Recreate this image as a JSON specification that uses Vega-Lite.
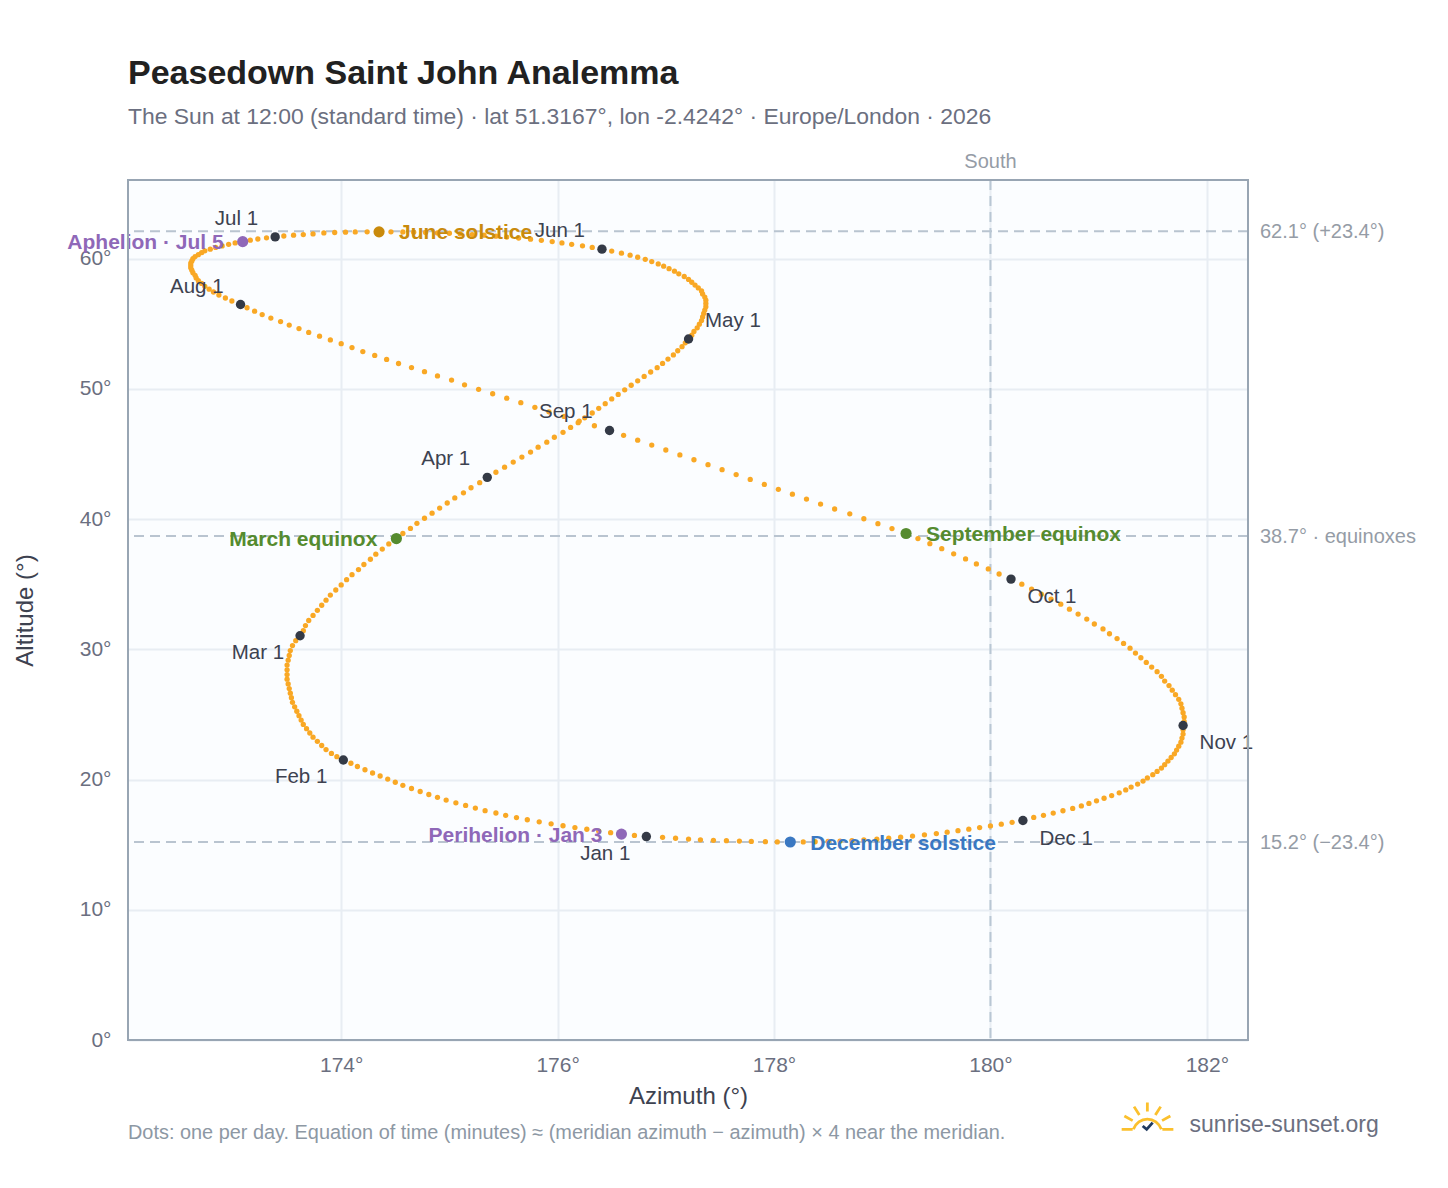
{
"$schema":"https://vega.github.io/schema/vega-lite/v6.json",
"width":1120,"height":860,
"autosize":"none",
"padding":{"left":128,"top":180,"right":200,"bottom":148},
"background":"#ffffff",
"config":{"font":"Liberation Sans","view":{"fill":"#fbfdff","stroke":null}},
"title":{"text":"Peasedown Saint John Analemma","subtitle":"The Sun at 12:00 (standard time) · lat 51.3167°, lon -2.4242° · Europe/London · 2026","anchor":"start","frame":"group","fontSize":34,"fontWeight":"bold","color":"#212121","subtitleFontSize":22.9,"subtitleColor":"#6b6f80","subtitlePadding":15,"offset":23},
"datasets":{
"blank":[{}],
"days":[
{"d":"Jan 1","az":176.82,"alt":15.62},{"d":"Jan 2","az":176.71,"alt":15.71},{"d":"Jan 3","az":176.59,"alt":15.81},{"d":"Jan 4","az":176.49,"alt":15.92},{"d":"Jan 5","az":176.38,"alt":16.04},{"d":"Jan 6","az":176.27,"alt":16.18},{"d":"Jan 7","az":176.16,"alt":16.31},{"d":"Jan 8","az":176.05,"alt":16.45},{"d":"Jan 9","az":175.94,"alt":16.60},{"d":"Jan 10","az":175.83,"alt":16.75},{"d":"Jan 11","az":175.72,"alt":16.91},{"d":"Jan 12","az":175.62,"alt":17.08},{"d":"Jan 13","az":175.52,"alt":17.25},{"d":"Jan 14","az":175.43,"alt":17.43},{"d":"Jan 15","az":175.33,"alt":17.61},{"d":"Jan 16","az":175.24,"alt":17.81},{"d":"Jan 17","az":175.15,"alt":18.01},{"d":"Jan 18","az":175.06,"alt":18.21},{"d":"Jan 19","az":174.97,"alt":18.42},{"d":"Jan 20","az":174.89,"alt":18.63},{"d":"Jan 21","az":174.81,"alt":18.85},{"d":"Jan 22","az":174.73,"alt":19.08},{"d":"Jan 23","az":174.65,"alt":19.31},{"d":"Jan 24","az":174.57,"alt":19.55},{"d":"Jan 25","az":174.50,"alt":19.79},{"d":"Jan 26","az":174.43,"alt":20.03},{"d":"Jan 27","az":174.36,"alt":20.27},{"d":"Jan 28","az":174.29,"alt":20.50},{"d":"Jan 29","az":174.22,"alt":20.75},{"d":"Jan 30","az":174.15,"alt":21.00},{"d":"Jan 31","az":174.09,"alt":21.25},
{"d":"Feb 1","az":174.02,"alt":21.50},{"d":"Feb 2","az":173.96,"alt":21.75},{"d":"Feb 3","az":173.91,"alt":22.00},{"d":"Feb 4","az":173.86,"alt":22.30},{"d":"Feb 5","az":173.82,"alt":22.61},{"d":"Feb 6","az":173.78,"alt":22.93},{"d":"Feb 7","az":173.74,"alt":23.25},{"d":"Feb 8","az":173.71,"alt":23.57},{"d":"Feb 9","az":173.68,"alt":23.90},{"d":"Feb 10","az":173.65,"alt":24.23},{"d":"Feb 11","az":173.63,"alt":24.56},{"d":"Feb 12","az":173.61,"alt":24.90},{"d":"Feb 13","az":173.59,"alt":25.24},{"d":"Feb 14","az":173.57,"alt":25.58},{"d":"Feb 15","az":173.55,"alt":25.93},{"d":"Feb 16","az":173.54,"alt":26.28},{"d":"Feb 17","az":173.53,"alt":26.63},{"d":"Feb 18","az":173.52,"alt":26.98},{"d":"Feb 19","az":173.51,"alt":27.34},{"d":"Feb 20","az":173.50,"alt":27.70},{"d":"Feb 21","az":173.50,"alt":28.06},{"d":"Feb 22","az":173.50,"alt":28.42},{"d":"Feb 23","az":173.50,"alt":28.79},{"d":"Feb 24","az":173.51,"alt":29.16},{"d":"Feb 25","az":173.52,"alt":29.53},{"d":"Feb 26","az":173.53,"alt":29.90},{"d":"Feb 27","az":173.55,"alt":30.28},{"d":"Feb 28","az":173.58,"alt":30.66},
{"d":"Mar 1","az":173.62,"alt":31.04},{"d":"Mar 2","az":173.65,"alt":31.43},{"d":"Mar 3","az":173.67,"alt":31.82},{"d":"Mar 4","az":173.70,"alt":32.21},{"d":"Mar 5","az":173.74,"alt":32.60},{"d":"Mar 6","az":173.78,"alt":32.99},{"d":"Mar 7","az":173.82,"alt":33.38},{"d":"Mar 8","az":173.86,"alt":33.77},{"d":"Mar 9","az":173.90,"alt":34.16},{"d":"Mar 10","az":173.95,"alt":34.55},{"d":"Mar 11","az":174.00,"alt":34.94},{"d":"Mar 12","az":174.05,"alt":35.34},{"d":"Mar 13","az":174.10,"alt":35.73},{"d":"Mar 14","az":174.16,"alt":36.12},{"d":"Mar 15","az":174.21,"alt":36.51},{"d":"Mar 16","az":174.27,"alt":36.91},{"d":"Mar 17","az":174.32,"alt":37.30},{"d":"Mar 18","az":174.38,"alt":37.69},{"d":"Mar 19","az":174.44,"alt":38.09},{"d":"Mar 20","az":174.51,"alt":38.50},{"d":"Mar 21","az":174.57,"alt":38.89},{"d":"Mar 22","az":174.64,"alt":39.28},{"d":"Mar 23","az":174.70,"alt":39.67},{"d":"Mar 24","az":174.77,"alt":40.06},{"d":"Mar 25","az":174.84,"alt":40.45},{"d":"Mar 26","az":174.91,"alt":40.84},{"d":"Mar 27","az":174.98,"alt":41.23},{"d":"Mar 28","az":175.05,"alt":41.62},{"d":"Mar 29","az":175.13,"alt":42.01},{"d":"Mar 30","az":175.20,"alt":42.40},{"d":"Mar 31","az":175.28,"alt":42.79},
{"d":"Apr 1","az":175.35,"alt":43.20},{"d":"Apr 2","az":175.43,"alt":43.59},{"d":"Apr 3","az":175.51,"alt":43.98},{"d":"Apr 4","az":175.59,"alt":44.37},{"d":"Apr 5","az":175.67,"alt":44.76},{"d":"Apr 6","az":175.75,"alt":45.14},{"d":"Apr 7","az":175.82,"alt":45.52},{"d":"Apr 8","az":175.90,"alt":45.90},{"d":"Apr 9","az":175.97,"alt":46.28},{"d":"Apr 10","az":176.05,"alt":46.66},{"d":"Apr 11","az":176.12,"alt":47.03},{"d":"Apr 12","az":176.19,"alt":47.40},{"d":"Apr 13","az":176.25,"alt":47.77},{"d":"Apr 14","az":176.32,"alt":48.14},{"d":"Apr 15","az":176.38,"alt":48.50},{"d":"Apr 16","az":176.44,"alt":48.86},{"d":"Apr 17","az":176.50,"alt":49.22},{"d":"Apr 18","az":176.56,"alt":49.57},{"d":"Apr 19","az":176.62,"alt":49.92},{"d":"Apr 20","az":176.68,"alt":50.27},{"d":"Apr 21","az":176.74,"alt":50.61},{"d":"Apr 22","az":176.80,"alt":50.95},{"d":"Apr 23","az":176.86,"alt":51.29},{"d":"Apr 24","az":176.92,"alt":51.62},{"d":"Apr 25","az":176.97,"alt":51.95},{"d":"Apr 26","az":177.02,"alt":52.28},{"d":"Apr 27","az":177.07,"alt":52.60},{"d":"Apr 28","az":177.11,"alt":52.92},{"d":"Apr 29","az":177.15,"alt":53.23},{"d":"Apr 30","az":177.18,"alt":53.53},
{"d":"May 1","az":177.21,"alt":53.82},{"d":"May 2","az":177.24,"alt":54.11},{"d":"May 3","az":177.26,"alt":54.40},{"d":"May 4","az":177.29,"alt":54.68},{"d":"May 5","az":177.31,"alt":54.96},{"d":"May 6","az":177.33,"alt":55.24},{"d":"May 7","az":177.34,"alt":55.51},{"d":"May 8","az":177.35,"alt":55.78},{"d":"May 9","az":177.36,"alt":56.04},{"d":"May 10","az":177.37,"alt":56.30},{"d":"May 11","az":177.37,"alt":56.55},{"d":"May 12","az":177.37,"alt":56.80},{"d":"May 13","az":177.36,"alt":57.04},{"d":"May 14","az":177.34,"alt":57.28},{"d":"May 15","az":177.33,"alt":57.51},{"d":"May 16","az":177.30,"alt":57.74},{"d":"May 17","az":177.27,"alt":57.96},{"d":"May 18","az":177.24,"alt":58.18},{"d":"May 19","az":177.21,"alt":58.40},{"d":"May 20","az":177.17,"alt":58.62},{"d":"May 21","az":177.12,"alt":58.83},{"d":"May 22","az":177.08,"alt":59.03},{"d":"May 23","az":177.03,"alt":59.22},{"d":"May 24","az":176.98,"alt":59.41},{"d":"May 25","az":176.93,"alt":59.59},{"d":"May 26","az":176.87,"alt":59.77},{"d":"May 27","az":176.81,"alt":59.94},{"d":"May 28","az":176.74,"alt":60.10},{"d":"May 29","az":176.67,"alt":60.26},{"d":"May 30","az":176.59,"alt":60.41},{"d":"May 31","az":176.50,"alt":60.57},
{"d":"Jun 1","az":176.41,"alt":60.72},{"d":"Jun 2","az":176.32,"alt":60.85},{"d":"Jun 3","az":176.23,"alt":60.98},{"d":"Jun 4","az":176.13,"alt":61.09},{"d":"Jun 5","az":176.04,"alt":61.20},{"d":"Jun 6","az":175.95,"alt":61.30},{"d":"Jun 7","az":175.85,"alt":61.40},{"d":"Jun 8","az":175.75,"alt":61.49},{"d":"Jun 9","az":175.64,"alt":61.57},{"d":"Jun 10","az":175.53,"alt":61.65},{"d":"Jun 11","az":175.43,"alt":61.72},{"d":"Jun 12","az":175.32,"alt":61.79},{"d":"Jun 13","az":175.21,"alt":61.84},{"d":"Jun 14","az":175.10,"alt":61.89},{"d":"Jun 15","az":175.00,"alt":61.94},{"d":"Jun 16","az":174.89,"alt":61.97},{"d":"Jun 17","az":174.78,"alt":62.00},{"d":"Jun 18","az":174.67,"alt":62.02},{"d":"Jun 19","az":174.57,"alt":62.04},{"d":"Jun 20","az":174.46,"alt":62.05},{"d":"Jun 21","az":174.35,"alt":62.05},{"d":"Jun 22","az":174.24,"alt":62.05},{"d":"Jun 23","az":174.13,"alt":62.04},{"d":"Jun 24","az":174.04,"alt":62.02},{"d":"Jun 25","az":173.94,"alt":62.00},{"d":"Jun 26","az":173.84,"alt":61.97},{"d":"Jun 27","az":173.74,"alt":61.89},{"d":"Jun 28","az":173.65,"alt":61.84},{"d":"Jun 29","az":173.56,"alt":61.79},{"d":"Jun 30","az":173.47,"alt":61.73},
{"d":"Jul 1","az":173.39,"alt":61.66},{"d":"Jul 2","az":173.31,"alt":61.59},{"d":"Jul 3","az":173.23,"alt":61.50},{"d":"Jul 4","az":173.16,"alt":61.41},{"d":"Jul 5","az":173.09,"alt":61.30},{"d":"Jul 6","az":173.02,"alt":61.20},{"d":"Jul 7","az":172.96,"alt":61.09},{"d":"Jul 8","az":172.90,"alt":60.97},{"d":"Jul 9","az":172.84,"alt":60.85},{"d":"Jul 10","az":172.79,"alt":60.72},{"d":"Jul 11","az":172.74,"alt":60.59},{"d":"Jul 12","az":172.71,"alt":60.45},{"d":"Jul 13","az":172.68,"alt":60.30},{"d":"Jul 14","az":172.65,"alt":60.15},{"d":"Jul 15","az":172.63,"alt":59.99},{"d":"Jul 16","az":172.62,"alt":59.82},{"d":"Jul 17","az":172.61,"alt":59.65},{"d":"Jul 18","az":172.61,"alt":59.47},{"d":"Jul 19","az":172.61,"alt":59.29},{"d":"Jul 20","az":172.62,"alt":59.10},{"d":"Jul 21","az":172.63,"alt":58.91},{"d":"Jul 22","az":172.65,"alt":58.71},{"d":"Jul 23","az":172.66,"alt":58.51},{"d":"Jul 24","az":172.68,"alt":58.30},{"d":"Jul 25","az":172.71,"alt":58.09},{"d":"Jul 26","az":172.74,"alt":57.87},{"d":"Jul 27","az":172.78,"alt":57.65},{"d":"Jul 28","az":172.82,"alt":57.43},{"d":"Jul 29","az":172.87,"alt":57.20},{"d":"Jul 30","az":172.93,"alt":56.97},{"d":"Jul 31","az":172.99,"alt":56.74},
{"d":"Aug 1","az":173.07,"alt":56.47},{"d":"Aug 2","az":173.13,"alt":56.22},{"d":"Aug 3","az":173.20,"alt":55.96},{"d":"Aug 4","az":173.27,"alt":55.70},{"d":"Aug 5","az":173.35,"alt":55.43},{"d":"Aug 6","az":173.44,"alt":55.16},{"d":"Aug 7","az":173.52,"alt":54.89},{"d":"Aug 8","az":173.61,"alt":54.62},{"d":"Aug 9","az":173.70,"alt":54.33},{"d":"Aug 10","az":173.80,"alt":54.04},{"d":"Aug 11","az":173.90,"alt":53.75},{"d":"Aug 12","az":174.00,"alt":53.46},{"d":"Aug 13","az":174.10,"alt":53.16},{"d":"Aug 14","az":174.20,"alt":52.86},{"d":"Aug 15","az":174.31,"alt":52.56},{"d":"Aug 16","az":174.42,"alt":52.25},{"d":"Aug 17","az":174.53,"alt":51.94},{"d":"Aug 18","az":174.65,"alt":51.63},{"d":"Aug 19","az":174.77,"alt":51.31},{"d":"Aug 20","az":174.89,"alt":50.99},{"d":"Aug 21","az":175.02,"alt":50.67},{"d":"Aug 22","az":175.14,"alt":50.30},{"d":"Aug 23","az":175.27,"alt":49.96},{"d":"Aug 24","az":175.40,"alt":49.62},{"d":"Aug 25","az":175.53,"alt":49.28},{"d":"Aug 26","az":175.66,"alt":48.93},{"d":"Aug 27","az":175.79,"alt":48.58},{"d":"Aug 28","az":175.92,"alt":48.23},{"d":"Aug 29","az":176.06,"alt":47.88},{"d":"Aug 30","az":176.20,"alt":47.52},{"d":"Aug 31","az":176.34,"alt":47.16},
{"d":"Sep 1","az":176.48,"alt":46.80},{"d":"Sep 2","az":176.61,"alt":46.43},{"d":"Sep 3","az":176.74,"alt":46.05},{"d":"Sep 4","az":176.87,"alt":45.68},{"d":"Sep 5","az":177.00,"alt":45.30},{"d":"Sep 6","az":177.13,"alt":44.92},{"d":"Sep 7","az":177.26,"alt":44.55},{"d":"Sep 8","az":177.39,"alt":44.17},{"d":"Sep 9","az":177.52,"alt":43.79},{"d":"Sep 10","az":177.65,"alt":43.41},{"d":"Sep 11","az":177.78,"alt":43.04},{"d":"Sep 12","az":177.91,"alt":42.66},{"d":"Sep 13","az":178.04,"alt":42.28},{"d":"Sep 14","az":178.17,"alt":41.91},{"d":"Sep 15","az":178.30,"alt":41.53},{"d":"Sep 16","az":178.43,"alt":41.15},{"d":"Sep 17","az":178.56,"alt":40.77},{"d":"Sep 18","az":178.70,"alt":40.40},{"d":"Sep 19","az":178.83,"alt":40.02},{"d":"Sep 20","az":178.96,"alt":39.64},{"d":"Sep 21","az":179.09,"alt":39.27},{"d":"Sep 22","az":179.22,"alt":38.89},{"d":"Sep 23","az":179.33,"alt":38.50},{"d":"Sep 24","az":179.44,"alt":38.11},{"d":"Sep 25","az":179.55,"alt":37.72},{"d":"Sep 26","az":179.66,"alt":37.33},{"d":"Sep 27","az":179.77,"alt":36.94},{"d":"Sep 28","az":179.87,"alt":36.55},{"d":"Sep 29","az":179.98,"alt":36.17},{"d":"Sep 30","az":180.08,"alt":35.78},
{"d":"Oct 1","az":180.19,"alt":35.39},{"d":"Oct 2","az":180.29,"alt":35.00},{"d":"Oct 3","az":180.38,"alt":34.62},{"d":"Oct 4","az":180.47,"alt":34.23},{"d":"Oct 5","az":180.56,"alt":33.85},{"d":"Oct 6","az":180.65,"alt":33.46},{"d":"Oct 7","az":180.73,"alt":33.08},{"d":"Oct 8","az":180.81,"alt":32.70},{"d":"Oct 9","az":180.89,"alt":32.32},{"d":"Oct 10","az":180.96,"alt":31.94},{"d":"Oct 11","az":181.04,"alt":31.56},{"d":"Oct 12","az":181.10,"alt":31.19},{"d":"Oct 13","az":181.17,"alt":30.82},{"d":"Oct 14","az":181.23,"alt":30.45},{"d":"Oct 15","az":181.29,"alt":30.08},{"d":"Oct 16","az":181.34,"alt":29.71},{"d":"Oct 17","az":181.39,"alt":29.35},{"d":"Oct 18","az":181.44,"alt":28.99},{"d":"Oct 19","az":181.49,"alt":28.63},{"d":"Oct 20","az":181.54,"alt":28.28},{"d":"Oct 21","az":181.58,"alt":27.92},{"d":"Oct 22","az":181.61,"alt":27.56},{"d":"Oct 23","az":181.65,"alt":27.21},{"d":"Oct 24","az":181.68,"alt":26.86},{"d":"Oct 25","az":181.71,"alt":26.51},{"d":"Oct 26","az":181.74,"alt":26.16},{"d":"Oct 27","az":181.76,"alt":25.81},{"d":"Oct 28","az":181.77,"alt":25.47},{"d":"Oct 29","az":181.78,"alt":25.13},{"d":"Oct 30","az":181.79,"alt":24.80},{"d":"Oct 31","az":181.79,"alt":24.47},
{"d":"Nov 1","az":181.78,"alt":24.15},{"d":"Nov 2","az":181.78,"alt":23.82},{"d":"Nov 3","az":181.78,"alt":23.49},{"d":"Nov 4","az":181.77,"alt":23.18},{"d":"Nov 5","az":181.76,"alt":22.87},{"d":"Nov 6","az":181.74,"alt":22.56},{"d":"Nov 7","az":181.72,"alt":22.26},{"d":"Nov 8","az":181.70,"alt":21.97},{"d":"Nov 9","az":181.67,"alt":21.69},{"d":"Nov 10","az":181.64,"alt":21.41},{"d":"Nov 11","az":181.61,"alt":21.14},{"d":"Nov 12","az":181.58,"alt":20.88},{"d":"Nov 13","az":181.54,"alt":20.62},{"d":"Nov 14","az":181.50,"alt":20.37},{"d":"Nov 15","az":181.45,"alt":20.12},{"d":"Nov 16","az":181.41,"alt":19.88},{"d":"Nov 17","az":181.36,"alt":19.65},{"d":"Nov 18","az":181.30,"alt":19.42},{"d":"Nov 19","az":181.25,"alt":19.20},{"d":"Nov 20","az":181.19,"alt":18.98},{"d":"Nov 21","az":181.12,"alt":18.77},{"d":"Nov 22","az":181.05,"alt":18.56},{"d":"Nov 23","az":180.98,"alt":18.36},{"d":"Nov 24","az":180.91,"alt":18.16},{"d":"Nov 25","az":180.84,"alt":17.97},{"d":"Nov 26","az":180.76,"alt":17.78},{"d":"Nov 27","az":180.67,"alt":17.60},{"d":"Nov 28","az":180.58,"alt":17.42},{"d":"Nov 29","az":180.49,"alt":17.25},{"d":"Nov 30","az":180.40,"alt":17.09},
{"d":"Dec 1","az":180.30,"alt":16.85},{"d":"Dec 2","az":180.20,"alt":16.71},{"d":"Dec 3","az":180.10,"alt":16.57},{"d":"Dec 4","az":180.00,"alt":16.44},{"d":"Dec 5","az":179.90,"alt":16.31},{"d":"Dec 6","az":179.80,"alt":16.19},{"d":"Dec 7","az":179.70,"alt":16.07},{"d":"Dec 8","az":179.60,"alt":15.96},{"d":"Dec 9","az":179.50,"alt":15.85},{"d":"Dec 10","az":179.39,"alt":15.75},{"d":"Dec 11","az":179.28,"alt":15.66},{"d":"Dec 12","az":179.17,"alt":15.57},{"d":"Dec 13","az":179.06,"alt":15.49},{"d":"Dec 14","az":178.95,"alt":15.42},{"d":"Dec 15","az":178.83,"alt":15.36},{"d":"Dec 16","az":178.72,"alt":15.31},{"d":"Dec 17","az":178.61,"alt":15.27},{"d":"Dec 18","az":178.50,"alt":15.24},{"d":"Dec 19","az":178.38,"alt":15.22},{"d":"Dec 20","az":178.27,"alt":15.21},{"d":"Dec 21","az":178.15,"alt":15.20},{"d":"Dec 22","az":178.03,"alt":15.21},{"d":"Dec 23","az":177.92,"alt":15.23},{"d":"Dec 24","az":177.79,"alt":15.25},{"d":"Dec 25","az":177.68,"alt":15.27},{"d":"Dec 26","az":177.56,"alt":15.30},{"d":"Dec 27","az":177.44,"alt":15.33},{"d":"Dec 28","az":177.32,"alt":15.37},{"d":"Dec 29","az":177.21,"alt":15.43},{"d":"Dec 30","az":177.09,"alt":15.49},{"d":"Dec 31","az":176.97,"alt":15.56}
],
"firsts":[
{"label":"Jan 1","az":176.82,"alt":15.62},{"label":"Feb 1","az":174.02,"alt":21.50},{"label":"Mar 1","az":173.62,"alt":31.04},{"label":"Apr 1","az":175.35,"alt":43.20},{"label":"May 1","az":177.21,"alt":53.82},{"label":"Jun 1","az":176.41,"alt":60.72},{"label":"Jul 1","az":173.39,"alt":61.66},{"label":"Aug 1","az":173.07,"alt":56.47},{"label":"Sep 1","az":176.48,"alt":46.80},{"label":"Oct 1","az":180.19,"alt":35.39},{"label":"Nov 1","az":181.78,"alt":24.15},{"label":"Dec 1","az":180.30,"alt":16.85}
],
"events":[
{"label":"Perihelion · Jan 3","kind":"apsis","az":176.59,"alt":15.81},{"label":"March equinox","kind":"equinox","az":174.51,"alt":38.50},{"label":"June solstice","kind":"june","az":174.35,"alt":62.05},{"label":"Aphelion · Jul 5","kind":"apsis","az":173.09,"alt":61.30},{"label":"September equinox","kind":"equinox","az":179.22,"alt":38.89},{"label":"December solstice","kind":"december","az":178.15,"alt":15.20}
],
"refs":[
{"alt":62.1,"label":"62.1° (+23.4°)"},{"alt":38.7,"label":"38.7° · equinoxes"},{"alt":15.2,"label":"15.2° (−23.4°)"}
]
},
"layer":[
{"data":{"name":"refs"},"mark":{"type":"rule","stroke":"#b9c4d0","strokeWidth":2,"strokeDash":[10,6]},
 "encoding":{
  "y":{"field":"alt","type":"quantitative","title":"Altitude (°)","scale":{"domain":[0,66.03],"nice":false,"zero":false},
   "axis":{"values":[0,10,20,30,40,50,60],"labelExpr":"datum.value + '°'","grid":true,"gridColor":"#e8edf3","gridWidth":2,"domain":false,"ticks":false,"labelFontSize":21,"labelColor":"#6b6f80","labelPadding":17,"titleFontSize":24,"titleFontWeight":"normal","titleColor":"#3d4250","titlePadding":42}}
 }},
{"data":{"name":"blank"},"mark":{"type":"rule","stroke":"#b9c7d4","strokeWidth":2,"strokeDash":[10,6]},"encoding":{"x":{"datum":180,"type":"quantitative"}}},
{"data":{"name":"days"},"mark":{"type":"circle","size":28,"color":"#f9a825","opacity":1},
 "encoding":{
  "x":{"field":"az","type":"quantitative","title":"Azimuth (°)","scale":{"domain":[172.03,182.38],"nice":false,"zero":false},
   "axis":{"values":[174,176,178,180,182],"labelExpr":"datum.value + '°'","grid":true,"gridColor":"#e8edf3","gridWidth":2,"domain":false,"ticks":false,"labelFontSize":21,"labelColor":"#6b6f80","labelPadding":14,"titleFontSize":24,"titleFontWeight":"normal","titleColor":"#3d4250","titlePadding":9}},
  "y":{"field":"alt","type":"quantitative"}}},
{"data":{"name":"firsts"},"mark":{"type":"circle","size":88,"color":"#343a46","opacity":1},
 "encoding":{"x":{"field":"az","type":"quantitative"},"y":{"field":"alt","type":"quantitative"}}},
{"data":{"name":"events"},"mark":{"type":"circle","size":125,"opacity":1},
 "encoding":{"x":{"field":"az","type":"quantitative"},"y":{"field":"alt","type":"quantitative"},
  "color":{"field":"kind","type":"nominal","legend":null,"scale":{"domain":["apsis","equinox","june","december"],"range":["#8f68b8","#558b2f","#c98a0c","#3a78c2"]}}}},
{"data":{"name":"firsts"},"transform":[{"filter":{"field":"label","oneOf":["Jul 1","Aug 1","Jun 1","Apr 1","Sep 1"]}}],
 "mark":{"type":"text","align":"right","baseline":"middle","dx":-17,"dy":-18,"fontSize":20.5,"color":"#3d4250"},
 "encoding":{"x":{"field":"az","type":"quantitative"},"y":{"field":"alt","type":"quantitative"},"text":{"field":"label"}}},
{"data":{"name":"firsts"},"transform":[{"filter":{"field":"label","oneOf":["Jan 1","Feb 1","Mar 1"]}}],
 "mark":{"type":"text","align":"right","baseline":"middle","dx":-16,"dy":17.5,"fontSize":20.5,"color":"#3d4250"},
 "encoding":{"x":{"field":"az","type":"quantitative"},"y":{"field":"alt","type":"quantitative"},"text":{"field":"label"}}},
{"data":{"name":"firsts"},"transform":[{"filter":{"field":"label","oneOf":["May 1"]}}],
 "mark":{"type":"text","align":"left","baseline":"middle","dx":16.5,"dy":-18.5,"fontSize":20.5,"color":"#3d4250"},
 "encoding":{"x":{"field":"az","type":"quantitative"},"y":{"field":"alt","type":"quantitative"},"text":{"field":"label"}}},
{"data":{"name":"firsts"},"transform":[{"filter":{"field":"label","oneOf":["Oct 1","Nov 1","Dec 1"]}}],
 "mark":{"type":"text","align":"left","baseline":"middle","dx":16.5,"dy":18,"fontSize":20.5,"color":"#3d4250"},
 "encoding":{"x":{"field":"az","type":"quantitative"},"y":{"field":"alt","type":"quantitative"},"text":{"field":"label"}}},
{"data":{"name":"events"},"transform":[{"filter":{"field":"label","oneOf":["June solstice","September equinox","December solstice"]}}],
 "mark":{"type":"text","align":"left","baseline":"middle","dx":20,"dy":1.5,"fontSize":21,"fontWeight":"bold"},
 "encoding":{"x":{"field":"az","type":"quantitative"},"y":{"field":"alt","type":"quantitative"},"text":{"field":"label"},
  "color":{"field":"kind","type":"nominal","legend":null}}},
{"data":{"name":"events"},"transform":[{"filter":{"field":"label","oneOf":["Perihelion · Jan 3","Aphelion · Jul 5","March equinox"]}}],
 "mark":{"type":"text","align":"right","baseline":"middle","dx":-19,"dy":1.5,"fontSize":21,"fontWeight":"bold"},
 "encoding":{"x":{"field":"az","type":"quantitative"},"y":{"field":"alt","type":"quantitative"},"text":{"field":"label"},
  "color":{"field":"kind","type":"nominal","legend":null}}},
{"data":{"name":"refs"},"mark":{"type":"text","align":"left","baseline":"middle","dx":12,"dy":1,"fontSize":20,"color":"#959ca6"},
 "encoding":{"x":{"datum":182.38,"type":"quantitative"},"y":{"field":"alt","type":"quantitative"},"text":{"field":"label"}}},
{"data":{"name":"blank"},"mark":{"type":"text","text":"South","align":"center","baseline":"middle","dy":-18,"fontSize":20,"color":"#959ca6"},
 "encoding":{"x":{"datum":180,"type":"quantitative"},"y":{"datum":66.03,"type":"quantitative"}}},
{"data":{"name":"blank"},"mark":{"type":"text","text":"Dots: one per day. Equation of time (minutes) ≈ (meridian azimuth − azimuth) × 4 near the meridian.","align":"left","baseline":"middle","fontSize":19.9,"color":"#8d98a4"},
 "encoding":{"x":{"datum":172.03,"type":"quantitative"},"y":{"datum":-7.14,"type":"quantitative"}}},
{"data":{"name":"blank"},"mark":{"type":"text","text":"sunrise-sunset.org","align":"left","baseline":"middle","fontSize":23,"color":"#6b6f80"},
 "encoding":{"x":{"datum":181.84,"type":"quantitative"},"y":{"datum":-6.53,"type":"quantitative"}}},
{"data":{"name":"blank"},"mark":{"type":"point","filled":false,"size":4,"opacity":1,"stroke":"#fbc02d","strokeWidth":2.8,"shape":"M-25.7 13L-14.7 13M15 13L26 13M-14 13A15 16 0 0 1 14 13M0 -13.7L0 -4.7M-13.3 -9.7L-8 -1.3M13.3 -9.7L8 -1.3M-23 -0.3L-14.7 4.3M23 -0.3L14.7 4.3"},
 "encoding":{"x":{"datum":181.45,"type":"quantitative"},"y":{"datum":-5.86,"type":"quantitative"}}},
{"data":{"name":"blank"},"mark":{"type":"point","filled":false,"size":4,"opacity":1,"stroke":"#1f3a5f","strokeWidth":2.8,"shape":"M-4.7 9.7L-0.7 13L5.3 6.3"},
 "encoding":{"x":{"datum":181.45,"type":"quantitative"},"y":{"datum":-5.86,"type":"quantitative"}}},
{"data":{"name":"blank"},"mark":{"type":"rect","filled":false,"stroke":"#98a5b3","strokeWidth":2,"opacity":1},
 "encoding":{"x":{"datum":172.03,"type":"quantitative"},"x2":{"datum":182.38},"y":{"datum":0,"type":"quantitative"},"y2":{"datum":66.03}}}
]
}
